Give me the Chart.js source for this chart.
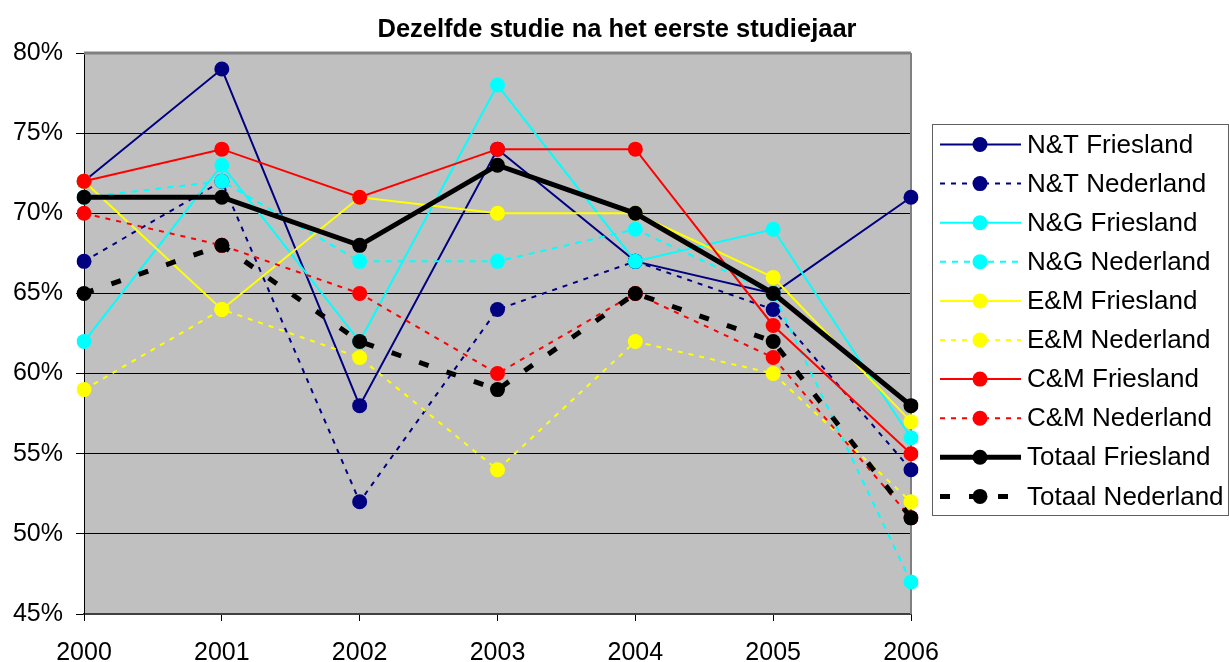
<!DOCTYPE html>
<html>
<head>
<meta charset="utf-8">
<script src="https://cdn.jsdelivr.net/npm/chart.js@4"></script>
<style>
  body { margin: 0; background: #fff; }
</style>
</head>
<body>
<canvas id="chart" width="1229" height="662"></canvas>
<script>
const years = ["2000", "2001", "2002", "2003", "2004", "2005", "2006"];

// percentages
const ntFriesland  = [72, 79, 58, 74, 67, 65, 71];
const ntNederland  = [67, 72, 52, 64, 67, 64, 54];
const ngFriesland  = [62, 73, 62, 78, 67, 69, 56];
const ngNederland  = [71, 72, 67, 67, 69, 65, 47];
const emFriesland  = [72, 64, 71, 70, 70, 66, 57];
const emNederland  = [59, 64, 61, 54, 62, 60, 52];
const cmFriesland  = [72, 74, 71, 74, 74, 63, 55];
const cmNederland  = [70, 68, 65, 60, 65, 61, 51];
const totFriesland = [71, 71, 68, 73, 70, 65, 58];
const totNederland = [65, 68, 62, 59, 65, 62, 51];

const seriesLabels = [
  "N&T Friesland", "N&T Nederland", "N&G Friesland", "N&G Nederland",
  "E&M Friesland", "E&M Nederland", "C&M Friesland", "C&M Nederland",
  "Totaal Friesland", "Totaal Nederland",
];
const seriesValues = [
  ntFriesland, ntNederland, ngFriesland, ngNederland, emFriesland,
  emNederland, cmFriesland, cmNederland, totFriesland, totNederland,
];

const NAVY = "#000080", CYAN = "#00FFFF", YELLOW = "#FFFF00", RED = "#FF0000", BLACK = "#000000";
const styles = [
  { color: NAVY,   width: 2, dash: [] },
  { color: NAVY,   width: 2, dash: [5, 6] },
  { color: CYAN,   width: 2, dash: [] },
  { color: CYAN,   width: 2, dash: [6, 6] },
  { color: YELLOW, width: 2, dash: [] },
  { color: YELLOW, width: 2, dash: [5, 6] },
  { color: RED,    width: 2, dash: [] },
  { color: RED,    width: 2, dash: [5, 6] },
  { color: BLACK,  width: 5, dash: [] },
  { color: BLACK,  width: 5, dash: [10, 19] },
];

const FONT = "Arial, 'Liberation Sans', sans-serif";

// Excel-ish chrome: grey plot area, frame, title and boxed legend
const excelDecor = {
  id: "excelDecor",
  beforeDraw(chart) {
    const { ctx, chartArea: a } = chart;
    ctx.save();
    ctx.fillStyle = "#C0C0C0";
    ctx.fillRect(a.left, a.top, a.right - a.left, a.bottom - a.top);
    ctx.restore();
  },
  beforeDatasetsDraw(chart) {
    const { ctx, chartArea: a } = chart;
    ctx.save();
    ctx.strokeStyle = "#808080";
    ctx.lineWidth = 3;
    ctx.beginPath();
    ctx.moveTo(a.left, a.top);
    ctx.lineTo(a.right, a.top);
    ctx.stroke();
    ctx.lineWidth = 2;
    ctx.beginPath();
    ctx.moveTo(a.right, a.top);
    ctx.lineTo(a.right, a.bottom);
    ctx.stroke();
    ctx.restore();
  },
  afterDraw(chart) {
    const { ctx } = chart;
    ctx.save();
    // title
    ctx.fillStyle = "#000";
    ctx.font = "bold 25.5px " + FONT;
    ctx.textAlign = "center";
    ctx.textBaseline = "middle";
    ctx.fillText("Dezelfde studie na het eerste studiejaar", 617, 30);

    // legend
    const box = { x: 932, y: 124, w: 296, h: 391 };
    ctx.fillStyle = "#fff";
    ctx.fillRect(box.x, box.y, box.w, box.h);
    ctx.strokeStyle = "#606060";
    ctx.lineWidth = 1;
    ctx.strokeRect(box.x + 0.5, box.y + 0.5, box.w, box.h);

    ctx.font = "26px " + FONT;
    ctx.textAlign = "left";
    chart.data.datasets.forEach((ds, i) => {
      const y = 144.5 + i * 39.1;
      ctx.strokeStyle = ds.borderColor;
      ctx.lineWidth = ds.borderWidth;
      ctx.setLineDash(ds.borderDash);
      ctx.beginPath();
      ctx.moveTo(940, y);
      ctx.lineTo(1021, y);
      ctx.stroke();
      ctx.setLineDash([]);
      ctx.fillStyle = ds.pointBackgroundColor;
      ctx.beginPath();
      ctx.arc(980, y, 7.5, 0, Math.PI * 2);
      ctx.fill();
      ctx.fillStyle = "#000";
      ctx.fillText(ds.label, 1027, y + 1);
    });
    ctx.restore();
  },
};

new Chart(document.getElementById("chart"), {
  type: "line",
  data: {
    labels: years,
    datasets: seriesValues.map((values, i) => ({
      label: seriesLabels[i],
      data: values,
      borderColor: styles[i].color,
      borderWidth: styles[i].width,
      borderDash: styles[i].dash,
      pointRadius: 7.5,
      pointHoverRadius: 7.5,
      pointBorderWidth: 0,
      pointBackgroundColor: styles[i].color,
      tension: 0,
      // later series on top, like the original
      order: seriesValues.length - 1 - i,
    })),
  },
  options: {
    responsive: false,
    animation: false,
    layout: { padding: { top: 53, right: 318, bottom: 0, left: 0 } },
    plugins: {
      legend: { display: false },
      title: { display: false },
      tooltip: { enabled: false },
    },
    scales: {
      x: {
        offset: false,
        afterFit: (s) => { s.height = 48; },
        grid: { drawOnChartArea: false, drawTicks: true, tickLength: 7, color: BLACK },
        border: { color: "#404040", width: 2 },
        ticks: { color: BLACK, font: { family: FONT, size: 25 }, padding: 17, maxRotation: 0 },
      },
      y: {
        min: 45,
        max: 80,
        afterFit: (s) => { s.width = 84; },
        grid: { color: BLACK, lineWidth: 1, tickLength: 8 },
        border: { color: BLACK, width: 1 },
        ticks: {
          stepSize: 5,
          color: BLACK,
          padding: 13,
          font: { family: FONT, size: 25 },
          callback: (v) => v + "%",
        },
      },
    },
  },
  plugins: [excelDecor],
});
</script>
</body>
</html>
